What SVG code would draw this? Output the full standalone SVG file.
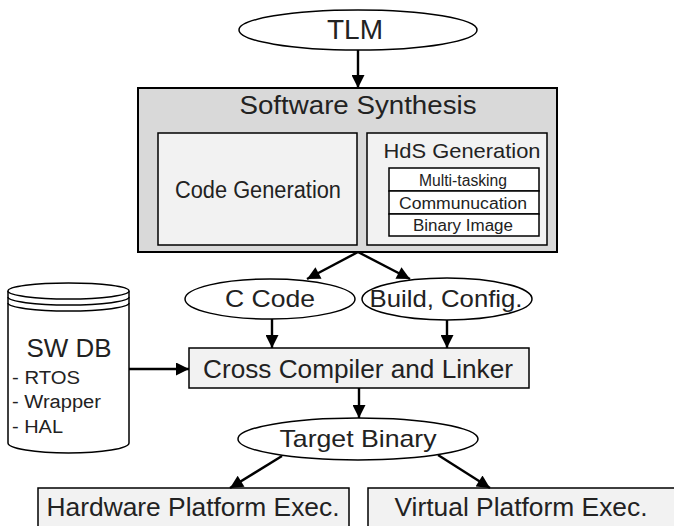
<svg xmlns="http://www.w3.org/2000/svg" width="674" height="526" viewBox="0 0 674 526">
<defs>
<style>
text{font-family:"Liberation Sans",Arial,sans-serif;fill:#222;text-anchor:middle}
.ell{fill:#fff;stroke:#000;stroke-width:1.5}
.box{fill:#f2f2f2;stroke:#000;stroke-width:1.5}
.outer{fill:#d9d9d9;stroke:#000;stroke-width:2}
.cell{fill:#fff;stroke:#000;stroke-width:1.5}
.conn{fill:none;stroke:#000;stroke-width:2.4;marker-end:url(#ah)}
.cyl{fill:#fff;stroke:#000;stroke-width:1.5}
</style>
<marker id="ah" viewBox="0 0 10 10" refX="10" refY="5" markerWidth="15" markerHeight="13" markerUnits="userSpaceOnUse" orient="auto">
<path d="M0,0 L10,5 L0,10 z" fill="#000"/>
</marker>
</defs>
<rect width="674" height="526" fill="#fff"/>
<g id="tlm">
<ellipse class="ell" cx="358" cy="30" rx="119" ry="20"/>
<text x="355" y="39" font-size="27" textLength="56" lengthAdjust="spacingAndGlyphs">TLM</text>
</g>
<g id="software-synthesis">
<rect class="outer" x="138" y="88" width="419" height="164"/>
<text x="358" y="114" font-size="25" textLength="237" lengthAdjust="spacingAndGlyphs">Software  Synthesis</text>
</g>
<g id="code-generation">
<rect class="box" x="158" y="133" width="199" height="112"/>
<text x="258" y="198" font-size="23" textLength="166" lengthAdjust="spacingAndGlyphs">Code Generation</text>
</g>
<g id="hds-generation">
<rect class="box" x="367" y="133" width="180" height="112"/>
<text x="462" y="158" font-size="21" textLength="157" lengthAdjust="spacingAndGlyphs">HdS Generation</text>
<rect class="cell" x="389" y="168" width="150" height="23"/>
<rect class="cell" x="389" y="191" width="150" height="23"/>
<rect class="cell" x="389" y="214" width="150" height="22"/>
<text x="463" y="186" font-size="16" textLength="88" lengthAdjust="spacingAndGlyphs">Multi-tasking</text>
<text x="463" y="209" font-size="16" textLength="128" lengthAdjust="spacingAndGlyphs">Communucation</text>
<text x="463" y="231" font-size="16" textLength="100" lengthAdjust="spacingAndGlyphs">Binary Image</text>
</g>
<g id="c-code">
<ellipse class="ell" cx="270" cy="299" rx="85" ry="20"/>
<text x="270" y="307" font-size="24" textLength="90" lengthAdjust="spacingAndGlyphs">C Code</text>
</g>
<g id="build-config">
<ellipse class="ell" cx="447" cy="299" rx="85" ry="21"/>
<text x="446" y="307" font-size="24" textLength="153" lengthAdjust="spacingAndGlyphs">Build, Config.</text>
</g>
<g id="sw-db">
<path class="cyl" d="M8,291 L8,443 A60.5,10 0 0 0 129,443 L129,291"/>
<ellipse class="cyl" cx="68.5" cy="291" rx="60.5" ry="8"/>
<path fill="none" stroke="#000" stroke-width="1.5" d="M8,297 A60.5,8 0 0 0 129,297 M8,303 A60.5,8 0 0 0 129,303"/>
<text x="69" y="357" font-size="26" textLength="85" lengthAdjust="spacingAndGlyphs">SW DB</text>
<text x="12" y="384" font-size="18" style="text-anchor:start" textLength="68" lengthAdjust="spacingAndGlyphs">- RTOS</text>
<text x="12" y="408" font-size="18" style="text-anchor:start" textLength="89" lengthAdjust="spacingAndGlyphs">- Wrapper</text>
<text x="12" y="433" font-size="18" style="text-anchor:start" textLength="51" lengthAdjust="spacingAndGlyphs">- HAL</text>
</g>
<g id="cross-compiler">
<rect class="box" x="189" y="348" width="340" height="40"/>
<text x="358" y="378" font-size="25" textLength="310" lengthAdjust="spacingAndGlyphs">Cross Compiler and Linker</text>
</g>
<g id="target-binary">
<ellipse class="ell" cx="358" cy="439" rx="120" ry="21"/>
<text x="358" y="447" font-size="24" textLength="157" lengthAdjust="spacingAndGlyphs">Target Binary</text>
</g>
<g id="hw-exec">
<rect class="box" x="38" y="488" width="311" height="45"/>
<text x="193" y="516" font-size="25" textLength="293" lengthAdjust="spacingAndGlyphs">Hardware Platform Exec.</text>
</g>
<g id="vp-exec">
<rect class="box" x="368" y="488" width="310" height="45"/>
<text x="521" y="516" font-size="25" textLength="253" lengthAdjust="spacingAndGlyphs">Virtual Platform Exec.</text>
</g>
<g id="connectors">
<path class="conn" d="M358,50 L358,88"/>
<path class="conn" d="M358,252 L307,279"/>
<path class="conn" d="M358,252 L410,279"/>
<path class="conn" d="M272,319 L272,348"/>
<path class="conn" d="M447,320 L447,348"/>
<path class="conn" d="M129,369 L189,369"/>
<path class="conn" d="M359,388 L359,418"/>
<path class="conn" d="M282,456 L230,488"/>
<path class="conn" d="M438,455 L490,488"/>
</g>
</svg>
